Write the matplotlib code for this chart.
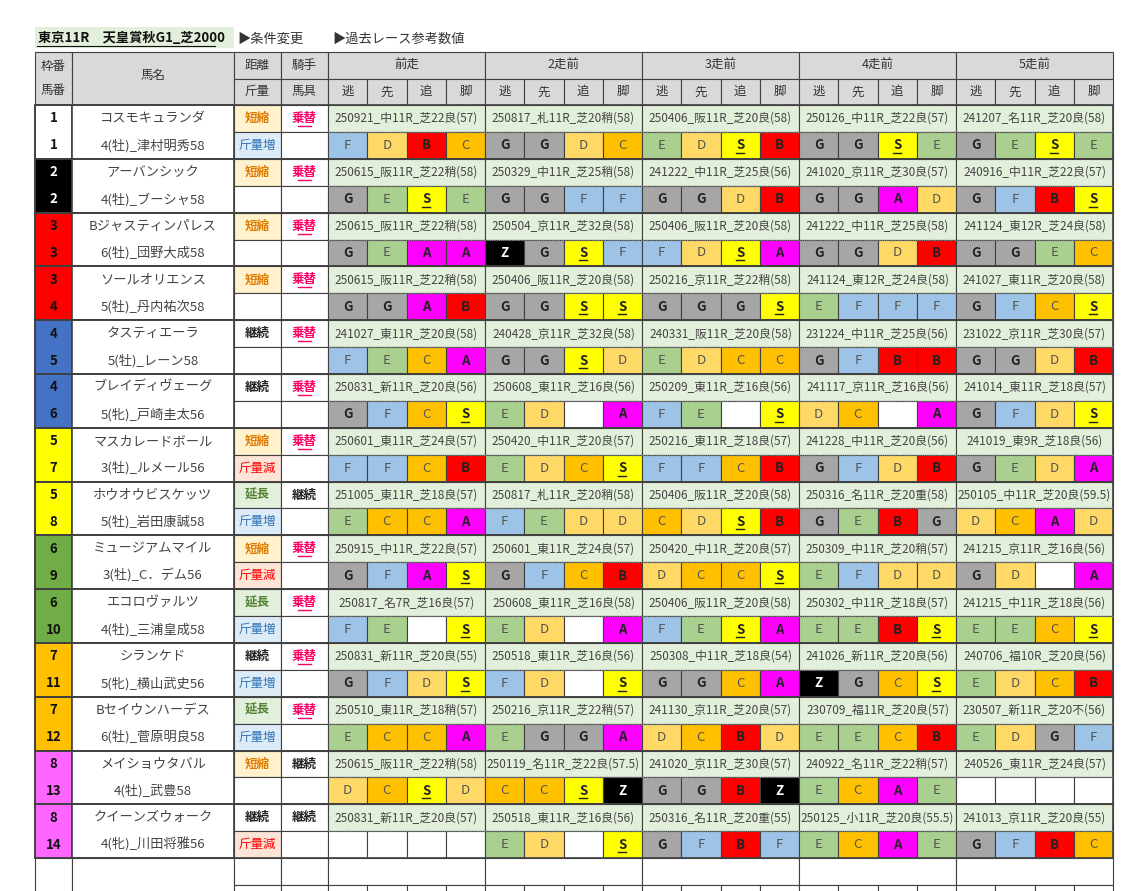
import matplotlib
matplotlib.use("Agg")
import matplotlib.pyplot as plt
from matplotlib.patches import Rectangle

plt.rcParams['font.family'] = ['Noto Sans CJK JP', 'DejaVu Sans']

title = "東京11R　天皇賞秋G1_芝2000"
notes = ["▶条件変更", "▶過去レース参考数値"]
race_headers = ["前走", "2走前", "3走前", "4走前", "5走前"]
sub_headers = ["逃", "先", "追", "脚"]

waku = [1, 2, 3, 3, 4, 4, 5, 5, 6, 6, 7, 7, 8, 8]
umaban = list(range(1, 15))
names = ["コスモキュランダ", "アーバンシック", "Bジャスティンパレス", "ソールオリエンス", "タスティエーラ",
         "ブレイディヴェーグ", "マスカレードボール", "ホウオウビスケッツ", "ミュージアムマイル", "エコロヴァルツ",
         "シランケド", "Bセイウンハーデス", "メイショウタバル", "クイーンズウォーク"]
jockeys = ["4(牡)_津村明秀58", "4(牡)_ブーシャ58", "6(牡)_団野大成58", "5(牡)_丹内祐次58", "5(牡)_レーン58",
           "5(牝)_戸崎圭太56", "3(牡)_ルメール56", "5(牡)_岩田康誠58", "3(牡)_C．デム56", "4(牡)_三浦皇成58",
           "5(牝)_横山武史56", "6(牡)_菅原明良58", "4(牡)_武豊58", "4(牝)_川田将雅56"]
distance = ["短縮", "短縮", "短縮", "短縮", "継続", "継続", "短縮", "延長", "短縮", "延長", "継続", "延長", "短縮", "継続"]
rider = ["乗替", "乗替", "乗替", "乗替", "乗替", "乗替", "乗替", "継続", "乗替", "乗替", "乗替", "乗替", "継続", "継続"]
weight = ["斤量増", "", "", "", "", "", "斤量減", "斤量増", "斤量減", "斤量増", "斤量増", "斤量増", "", "斤量減"]

races = [
    ["250921_中11R_芝22良(57)", "250817_札11R_芝20稍(58)", "250406_阪11R_芝20良(58)", "250126_中11R_芝22良(57)", "241207_名11R_芝20良(58)"],
    ["250615_阪11R_芝22稍(58)", "250329_中11R_芝25稍(58)", "241222_中11R_芝25良(56)", "241020_京11R_芝30良(57)", "240916_中11R_芝22良(57)"],
    ["250615_阪11R_芝22稍(58)", "250504_京11R_芝32良(58)", "250406_阪11R_芝20良(58)", "241222_中11R_芝25良(58)", "241124_東12R_芝24良(58)"],
    ["250615_阪11R_芝22稍(58)", "250406_阪11R_芝20良(58)", "250216_京11R_芝22稍(58)", "241124_東12R_芝24良(58)", "241027_東11R_芝20良(58)"],
    ["241027_東11R_芝20良(58)", "240428_京11R_芝32良(58)", "240331_阪11R_芝20良(58)", "231224_中11R_芝25良(56)", "231022_京11R_芝30良(57)"],
    ["250831_新11R_芝20良(56)", "250608_東11R_芝16良(56)", "250209_東11R_芝16良(56)", "241117_京11R_芝16良(56)", "241014_東11R_芝18良(57)"],
    ["250601_東11R_芝24良(57)", "250420_中11R_芝20良(57)", "250216_東11R_芝18良(57)", "241228_中11R_芝20良(56)", "241019_東9R_芝18良(56)"],
    ["251005_東11R_芝18良(57)", "250817_札11R_芝20稍(58)", "250406_阪11R_芝20良(58)", "250316_名11R_芝20重(58)", "250105_中11R_芝20良(59.5)"],
    ["250915_中11R_芝22良(57)", "250601_東11R_芝24良(57)", "250420_中11R_芝20良(57)", "250309_中11R_芝20稍(57)", "241215_京11R_芝16良(56)"],
    ["250817_名7R_芝16良(57)", "250608_東11R_芝16良(58)", "250406_阪11R_芝20良(58)", "250302_中11R_芝18良(57)", "241215_中11R_芝18良(56)"],
    ["250831_新11R_芝20良(55)", "250518_東11R_芝16良(56)", "250308_中11R_芝18良(54)", "241026_新11R_芝20良(56)", "240706_福10R_芝20良(56)"],
    ["250510_東11R_芝18稍(57)", "250216_京11R_芝22稍(57)", "241130_京11R_芝20良(57)", "230709_福11R_芝20良(57)", "230507_新11R_芝20不(56)"],
    ["250615_阪11R_芝22稍(58)", "250119_名11R_芝22良(57.5)", "241020_京11R_芝30良(57)", "240922_名11R_芝22稍(57)", "240526_東11R_芝24良(57)"],
    ["250831_新11R_芝20良(57)", "250518_東11R_芝16良(56)", "250316_名11R_芝20重(55)", "250125_小11R_芝20良(55.5)", "241013_京11R_芝20良(55)"],
]
grades = [
    ["FDBC", "GGDC", "EDSB", "GGSE", "GESE"],
    ["GESE", "GGFF", "GGDB", "GGAD", "GFBS"],
    ["GEAA", "ZGSF", "FDSA", "GGDB", "GGEC"],
    ["GGAB", "GGSS", "GGGS", "EFFF", "GFCS"],
    ["FECA", "GGSD", "EDCC", "GFBB", "GGDB"],
    ["GFCS", "ED A", "FE S", "DC A", "GFDS"],
    ["FFCB", "EDCS", "FFCB", "GFDB", "GEDA"],
    ["ECCA", "FEDD", "CDSB", "GEBG", "DCAD"],
    ["GFAS", "GFCB", "DCCS", "EFDD", "GD A"],
    ["FE S", "ED A", "FESA", "EEBS", "EECS"],
    ["GFDS", "FD S", "GGCA", "ZGCS", "EDCB"],
    ["ECCA", "EGGA", "DCBD", "EECB", "EDGF"],
    ["DCSD", "CCSZ", "GGBZ", "ECAE", "    "],
    ["    ", "ED S", "GFBF", "ECAE", "GFBC"],
]

waku_col = {1: "#ffffff", 2: "#000000", 3: "#ff0000", 4: "#4472c4", 5: "#ffff00", 6: "#70ad47", 7: "#ffc000", 8: "#ff66ff"}
grade_col = {"F": "#9dc3e6", "D": "#ffd966", "C": "#ffc000", "B": "#ff0000", "A": "#ff00ff",
             "S": "#ffff00", "E": "#a9d08e", "G": "#a6a6a6", "Z": "#000000", " ": "#ffffff"}
bold_grades = set("GBASZ")

fig = plt.figure(figsize=(11.39, 8.91), dpi=100)
ax = fig.add_axes([0, 0, 1, 1])
ax.set_xlim(0, 1139)
ax.set_ylim(891, 0)
ax.axis("off")

X = [35, 72, 234, 281, 328]
RW = 157
CW = RW / 4
RIGHT = X[4] + 5 * RW
TOP, HR, RH = 52, 26.5, 26.9
BODY = TOP + 2 * HR
GRID = "#404040"

def cell(x0, y0, w, h, fc="#ffffff", lw=0.8, ec=GRID):
    ax.add_patch(Rectangle((x0, y0), w, h, facecolor=fc, edgecolor=ec, lw=lw))

def txt(x, y, s, size=9.5, color="#333333", weight="normal", underline=False):
    ax.text(x, y, s, ha="center", va="center", fontsize=size, color=color, fontweight=weight)
    if underline:
        half = 3.6 * len(s) * size / 9.5 if len(s) > 1 else 4
        ax.plot([x - half, x + half], [y + 7.5, y + 7.5], color=color, lw=1.0)

# title
ax.add_patch(Rectangle((35, 27), 199, 21, facecolor="#e2efda", edgecolor="none"))
ax.text(38, 38, title, ha="left", va="center", fontsize=9.5, fontweight="bold", color="#111111")
ax.plot([37, 215], [46, 46], color="#111111", lw=0.8)
ax.text(237, 39, notes[0], ha="left", va="center", fontsize=9.5, color="#333333")
ax.text(332, 39, notes[1], ha="left", va="center", fontsize=9.5, color="#333333")

# header
hg = "#d9d9d9"
cell(X[0], TOP, X[1] - X[0], 2 * HR, hg)
txt((X[0] + X[1]) / 2, TOP + HR * 0.55, "枠番", 9)
txt((X[0] + X[1]) / 2, TOP + HR * 1.45, "馬番", 9)
cell(X[1], TOP, X[2] - X[1], 2 * HR, hg)
txt((X[1] + X[2]) / 2, TOP + HR * 0.9, "馬名", 9)
for xa, xb, a, b in [(X[2], X[3], "距離", "斤量"), (X[3], X[4], "騎手", "馬具")]:
    cell(xa, TOP, xb - xa, HR, hg); txt((xa + xb) / 2, TOP + HR / 2, a, 9)
    cell(xa, TOP + HR, xb - xa, HR, hg); txt((xa + xb) / 2, TOP + 1.5 * HR, b, 9)
for r, h in enumerate(race_headers):
    x0 = X[4] + r * RW
    cell(x0, TOP, RW, HR, hg); txt(x0 + RW / 2, TOP + HR / 2, h, 9)
    for k, s in enumerate(sub_headers):
        cell(x0 + k * CW, TOP + HR, CW, HR, hg); txt(x0 + (k + 0.5) * CW, TOP + 1.5 * HR, s, 9)

dist_style = {"短縮": ("#fff2cc", "#e07b00", "bold"), "延長": ("#e2efda", "#548235", "bold"), "継続": ("#ffffff", "#222222", "bold")}

for i in range(14):
    y1 = BODY + 2 * i * RH
    y2 = y1 + RH
    wc = waku_col[waku[i]]
    tc = "#ffffff" if waku[i] == 2 else "#111111"
    cell(X[0], y1, X[1] - X[0], 2 * RH, wc, lw=1.2)
    txt((X[0] + X[1]) / 2, y1 + RH / 2, str(waku[i]), 9.5, tc, "bold")
    txt((X[0] + X[1]) / 2, y2 + RH / 2, str(umaban[i]), 9.5, tc, "bold")
    cell(X[1], y1, X[2] - X[1], 2 * RH, "#ffffff", lw=1.2)
    txt((X[1] + X[2]) / 2, y1 + RH / 2, names[i], 9.5, "#444444")
    txt((X[1] + X[2]) / 2, y2 + RH / 2, jockeys[i], 9.5, "#444444")
    fc, c, w = dist_style[distance[i]]
    cell(X[2], y1, X[3] - X[2], RH, fc); txt((X[2] + X[3]) / 2, y1 + RH / 2, distance[i], 9, c, w)
    if rider[i] == "乗替":
        cell(X[3], y1, X[4] - X[3], RH); txt((X[3] + X[4]) / 2, y1 + RH / 2, rider[i], 9, "#ff0066", "bold", True)
    else:
        cell(X[3], y1, X[4] - X[3], RH); txt((X[3] + X[4]) / 2, y1 + RH / 2, rider[i], 9, "#222222", "bold")
    if weight[i] == "斤量増":
        cell(X[2], y2, X[3] - X[2], RH, "#ddebf7"); txt((X[2] + X[3]) / 2, y2 + RH / 2, weight[i], 9, "#2f75b5")
    elif weight[i] == "斤量減":
        cell(X[2], y2, X[3] - X[2], RH, "#fce4d6"); txt((X[2] + X[3]) / 2, y2 + RH / 2, weight[i], 9, "#ff0000")
    else:
        cell(X[2], y2, X[3] - X[2], RH)
    cell(X[3], y2, X[4] - X[3], RH)
    for r in range(5):
        x0 = X[4] + r * RW
        cell(x0, y1, RW, RH, "#e2efda")
        txt(x0 + RW / 2, y1 + RH / 2, races[i][r], 8.5, "#444444")
        for k, g in enumerate(grades[i][r]):
            cell(x0 + k * CW, y2, CW, RH, grade_col[g])
            if g != " ":
                gc = "#ffffff" if g == "Z" else ("#222222" if g in bold_grades else "#555555")
                txt(x0 + (k + 0.5) * CW, y2 + RH / 2, g, 9.5, gc,
                    "bold" if g in bold_grades else "normal", underline=(g == "S"))
        ax.plot([x0, x0 + RW], [y2, y2], color="#888888", lw=0.8, ls=(0, (1, 1)))
    ax.add_patch(Rectangle((X[0], y1), RIGHT - X[0], 2 * RH, facecolor="none", edgecolor=GRID, lw=1.2))

# empty trailing rows
yb = BODY + 28 * RH
cell(X[0], yb, X[1] - X[0], 60); cell(X[1], yb, X[2] - X[1], 60)
cell(X[2], yb, X[3] - X[2], RH); cell(X[3], yb, X[4] - X[3], RH)
cell(X[2], yb + RH, X[3] - X[2], 40); cell(X[3], yb + RH, X[4] - X[3], 40)
for r in range(5):
    x0 = X[4] + r * RW
    cell(x0, yb, RW, RH)
    for k in range(4):
        cell(x0 + k * CW, yb + RH, CW, 40)
ax.set_ylim(891, 0)
fig.savefig("out.png", dpi=100)
